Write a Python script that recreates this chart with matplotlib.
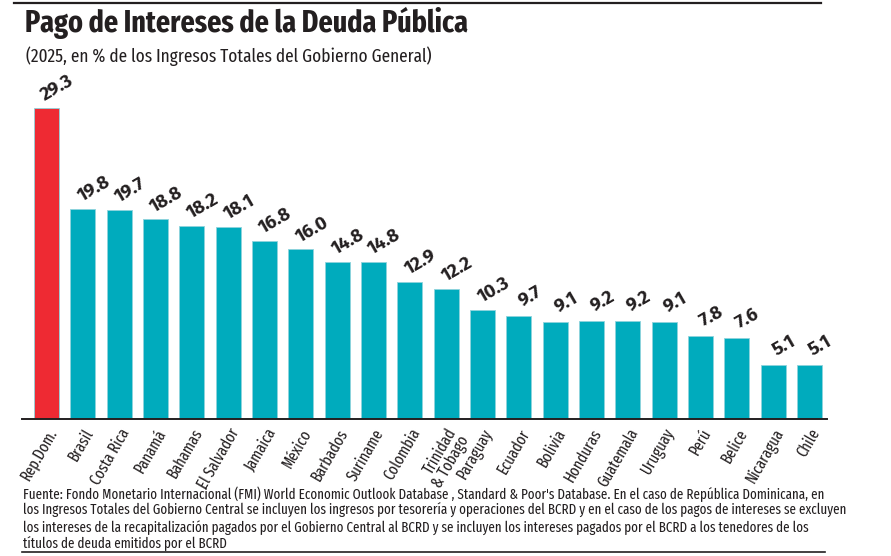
import matplotlib
matplotlib.use('Agg')
import matplotlib.pyplot as plt
from matplotlib.lines import Line2D

# data
paises = ['Rep.Dom.', 'Brasil', 'Costa Rica', 'Panamá', 'Bahamas', 'El Salvador',
          'Jamaica', 'México', 'Barbados', 'Suriname', 'Colombia', 'Trinidad\n& Tobago',
          'Paraguay', 'Ecuador', 'Bolivia', 'Honduras', 'Guatemala', 'Uruguay',
          'Perú', 'Belice', 'Nicaragua', 'Chile']
valores = [29.3, 19.8, 19.7, 18.8, 18.2, 18.1, 16.8, 16.0, 14.8, 14.8, 12.9, 12.2,
           10.3, 9.7, 9.1, 9.2, 9.2, 9.1, 7.8, 7.6, 5.1, 5.1]

rojo = '#ee2a33'
turquesa = '#00abbd'
tinta = '#231f20'
xcond = ['Fira Sans Extra Condensed', 'Fira Sans Condensed', 'DejaVu Sans']
ancha = ['Fira Sans', 'DejaVu Sans']

fig = plt.figure(figsize=(8.91, 5.56), dpi=100)
ax = fig.add_axes([22 / 891, 137 / 556, 805 / 891, 340 / 556])

colores = [rojo] + [turquesa] * (len(valores) - 1)
x = list(range(len(valores)))
ax.bar(x, valores, width=0.69, color=colores, edgecolor='#8fd3dc', linewidth=0.6)

for xi, v in zip(x, valores):
    ax.annotate(f'{v:.1f}', (xi, v), xytext=(8, 14), textcoords='offset points',
                ha='center', va='center', rotation=30, fontsize=13.5,
                fontweight='bold', family=ancha, color=tinta)

ax.set_xlim(-0.674, 21.48)
ax.set_ylim(0, 32)
ax.set_xticks(x)
ax.set_xticklabels(paises, rotation=60, ha='right', va='top', rotation_mode='anchor',
                   fontsize=11.5, family=xcond, color=tinta, linespacing=0.85)
ax.tick_params(axis='x', length=0, pad=5)
ax.set_yticks([])
for s in ['top', 'right', 'left']:
    ax.spines[s].set_visible(False)
ax.spines['bottom'].set_color(tinta)
ax.spines['bottom'].set_linewidth(1.4)

# rules at the top and bottom
fig.add_artist(Line2D([14 / 891, 821 / 891], [1 - 3 / 556, 1 - 3 / 556],
                      color=tinta, lw=1.6))
fig.add_artist(Line2D([22 / 891, 825 / 891], [1 - 552 / 556, 1 - 552 / 556],
                      color=tinta, lw=1.2))

fig.text(25 / 891, 1 - 23 / 556, 'Pago de Intereses de la Deuda Pública',
         fontsize=22, fontweight='bold', family=xcond, color=tinta,
         va='center', ha='left')
fig.text(26 / 891, 1 - 56 / 556,
         '(2025, en % de los Ingresos Totales del Gobierno General)',
         fontsize=13.5, family=xcond, color=tinta, va='center', ha='left')

nota = ("Fuente: Fondo Monetario Internacional (FMI) World Economic Outlook Database , "
        "Standard & Poor's Database. En el caso de República Dominicana, en\n"
        "los Ingresos Totales del Gobierno Central se incluyen los ingresos por tesorería "
        "y operaciones del BCRD y en el caso de los pagos de intereses se excluyen\n"
        "los intereses de la recapitalización pagados por el Gobierno Central al BCRD y se "
        "incluyen los intereses pagados por el BCRD a los tenedores de los\n"
        "títulos de deuda emitidos por el BCRD")
fig.text(23 / 891, 1 - 486 / 556, nota, fontsize=10.2, family=xcond,
         color=tinta, va='top', ha='left', linespacing=1.13)

fig.savefig('out.png', dpi=100)
